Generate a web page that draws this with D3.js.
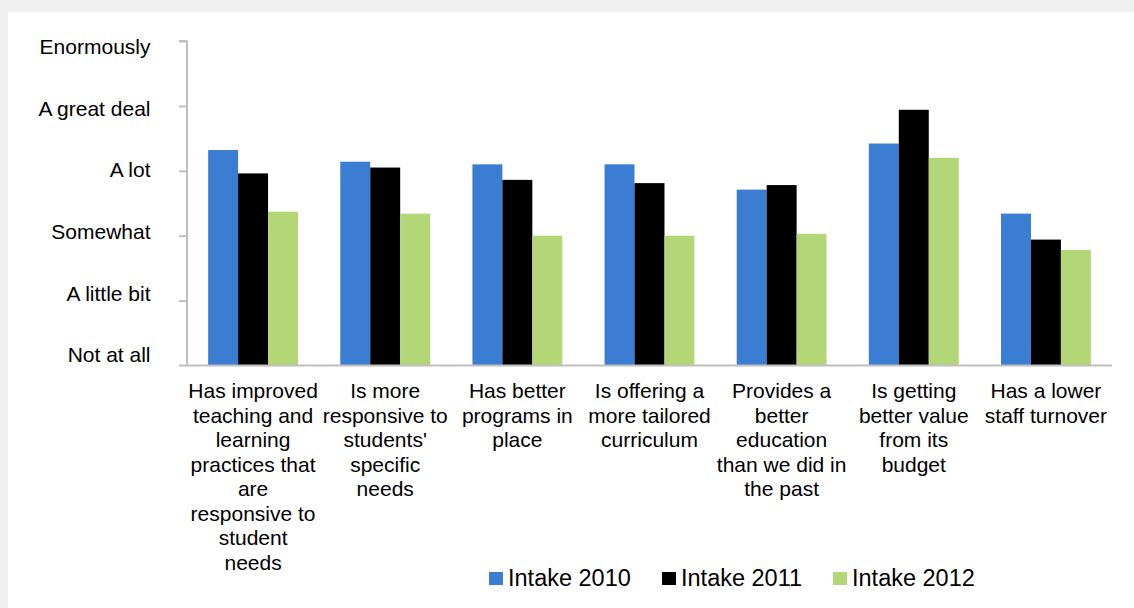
<!DOCTYPE html>
<html>
<head>
<meta charset="utf-8">
<script src="https://cdn.jsdelivr.net/npm/d3@7"></script>
<style>
  html, body { margin: 0; padding: 0; background: #f0f0f0; }
  svg { display: block; }
  text { font-family: "Liberation Sans", Arial, sans-serif; fill: #000; }
</style>
</head>
<body>
<svg id="chart" width="1134" height="608"></svg>
<script>
// Statements rated on a six-point agreement scale, one bar per intake year
const categories = [
  ["Has improved", "teaching and", "learning", "practices that", "are", "responsive to", "student", "needs"],
  ["Is more", "responsive to", "students'", "specific", "needs"],
  ["Has better", "programs in", "place"],
  ["Is offering a", "more tailored", "curriculum"],
  ["Provides a", "better", "education", "than we did in", "the past"],
  ["Is getting", "better value", "from its", "budget"],
  ["Has a lower", "staff turnover"]
];
const seriesNames = ["Intake 2010", "Intake 2011", "Intake 2012"];
const intake2010 = [3.32, 3.14, 3.10, 3.10, 2.71, 3.42, 2.34];
const intake2011 = [2.96, 3.05, 2.86, 2.81, 2.78, 3.94, 1.94];
const intake2012 = [2.37, 2.34, 2.00, 2.00, 2.03, 3.20, 1.78];
const scaleLabels = ["Not at all", "A little bit", "Somewhat", "A lot", "A great deal", "Enormously"];
const colors = ["#3a7dd3", "#000000", "#b3d677"];

const values = [intake2010, intake2011, intake2012];
const rows = categories.map((c, i) => ({ idx: i, lines: c, vals: values.map(v => v[i]) }));

const svg = d3.select("#chart");

// white chart panel
svg.append("rect").attr("x", 8).attr("y", 12).attr("width", 1126).attr("height", 596).attr("fill", "#ffffff");

const plotLeft = 187, plotRight = 1112, plotBase = 365.5, plotTop = 41;

const y = d3.scaleLinear().domain([0, 5]).range([plotBase, plotTop]);
const x0 = d3.scaleBand().domain(d3.range(categories.length)).range([plotLeft, plotRight])
  .paddingInner(0.32).paddingOuter(0.16);
const x1 = d3.scaleBand().domain(d3.range(seriesNames.length)).range([0, x0.bandwidth()]);

// bars
const groups = svg.append("g").selectAll("g").data(rows).join("g")
  .attr("transform", d => `translate(${x0(d.idx)},0)`);
groups.selectAll("rect").data(d => d.vals.map((v, s) => ({ v, s }))).join("rect")
  .attr("x", d => x1(d.s))
  .attr("width", x1.bandwidth())
  .attr("y", d => y(d.v))
  .attr("height", d => y(0) - y(d.v))
  .attr("fill", d => colors[d.s]);

// vertical axis with tick marks
const yAxis = d3.axisLeft(y).ticks(5).tickSize(8).tickFormat("");
const ga = svg.append("g").attr("transform", `translate(${plotLeft},0)`).call(yAxis);
ga.select(".domain").attr("stroke", "#bfbfbf").attr("stroke-width", 2).attr("d", `M-8,${plotTop}H0V${plotBase}`);
ga.selectAll(".tick line").attr("stroke", "#bfbfbf").attr("stroke-width", 2);
ga.selectAll(".tick").filter(d => d === 0).select("line").remove();

// scale labels sit between the tick marks
const yLab = d3.scaleLinear().domain([0, 5]).range([355, 46.7]);
svg.append("g").selectAll("text").data(scaleLabels).join("text")
  .attr("x", 150.5)
  .attr("y", (d, i) => yLab(i))
  .attr("dy", "0.35em")
  .attr("text-anchor", "end")
  .style("font-size", "21px")
  .text(d => d);

// horizontal baseline
const xAxis = d3.axisBottom(x0).tickSize(0).tickFormat("");
const gx = svg.append("g").attr("transform", `translate(0,${plotBase})`).call(xAxis);
gx.select(".domain").attr("stroke", "#bfbfbf").attr("stroke-width", 2).attr("d", `M179,0H${plotRight}`);

// category labels
const lab = svg.append("g").selectAll("text").data(rows).join("text")
  .attr("text-anchor", "middle")
  .style("font-size", "21px");
lab.selectAll("tspan").data(d => d.lines.map(l => ({ l, cx: x0(d.idx) + x0.bandwidth() / 2 }))).join("tspan")
  .attr("x", d => d.cx)
  .attr("y", (d, i) => 398 + i * 24.5)
  .text(d => d.l);

// legend
const legendX = [489, 662, 833];
const leg = svg.append("g").selectAll("g").data(seriesNames).join("g")
  .attr("transform", (d, i) => `translate(${legendX[i]},572)`);
leg.append("rect").attr("width", 14).attr("height", 13).attr("fill", (d, i) => colors[i]);
leg.append("text").attr("x", 19).attr("y", 14)
  .style("font-size", "23.5px")
  .text(d => d);
</script>
</body>
</html>
